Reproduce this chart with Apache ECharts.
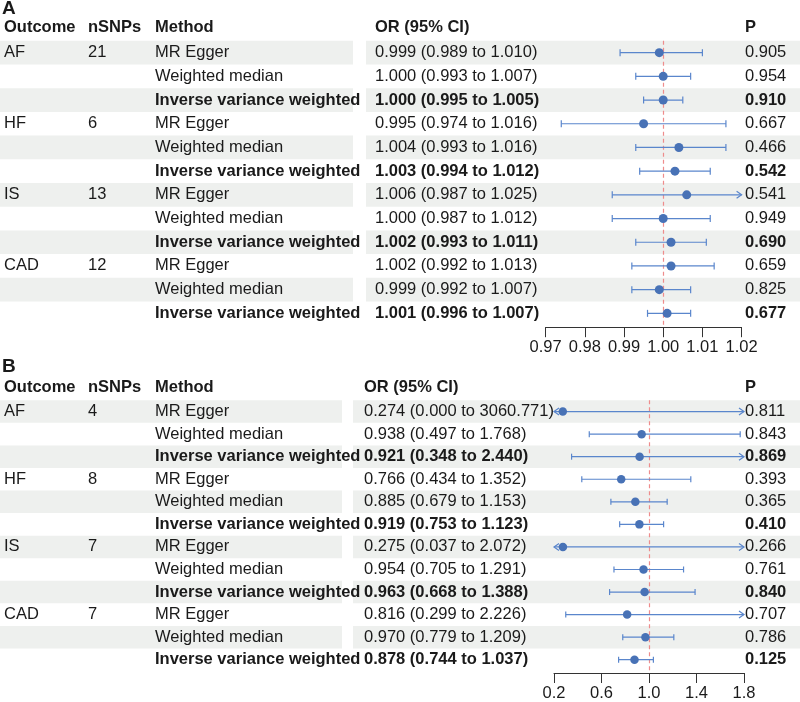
<!DOCTYPE html>
<html>
<head>
<meta charset="utf-8">
<script src="https://cdn.jsdelivr.net/npm/echarts@6/dist/echarts.min.js"></script>
<style>
  html, body { margin: 0; padding: 0; background: #fff; }
  #chart { width: 800px; height: 702px; }
</style>
</head>
<body>
<div id="chart"></div>
<script>
// table columns
const outcomes = ["AF", "HF", "IS", "CAD"];
const methods = ["MR Egger", "Weighted median", "Inverse variance weighted"];

// panel A
const snpsA = [21, 6, 13, 12];
const orA = [0.999, 1.000, 1.000, 0.995, 1.004, 1.003, 1.006, 1.000, 1.002, 1.002, 0.999, 1.001];
const loA = [0.989, 0.993, 0.995, 0.974, 0.993, 0.994, 0.987, 0.987, 0.993, 0.992, 0.992, 0.996];
const hiA = [1.010, 1.007, 1.005, 1.016, 1.016, 1.012, 1.025, 1.012, 1.011, 1.013, 1.007, 1.007];
const pA = [0.905, 0.954, 0.910, 0.667, 0.466, 0.542, 0.541, 0.949, 0.690, 0.659, 0.825, 0.677];
const ticksA = [0.97, 0.98, 0.99, 1.00, 1.01, 1.02];

// panel B
const snpsB = [4, 8, 7, 7];
const orB = [0.274, 0.938, 0.921, 0.766, 0.885, 0.919, 0.275, 0.954, 0.963, 0.816, 0.970, 0.878];
const loB = [0.000, 0.497, 0.348, 0.434, 0.679, 0.753, 0.037, 0.705, 0.668, 0.299, 0.779, 0.744];
const hiB = [3060.771, 1.768, 2.440, 1.352, 1.153, 1.123, 2.072, 1.291, 1.388, 2.226, 1.209, 1.037];
const pB = [0.811, 0.843, 0.869, 0.393, 0.365, 0.410, 0.266, 0.761, 0.840, 0.707, 0.786, 0.125];
const ticksB = [0.2, 0.6, 1.0, 1.4, 1.8];

const FONT = "'Liberation Sans', Arial, sans-serif";
const FS = 16.5;
const TXT = "#1a1a1a";
const BAND = "#eef0ee";
const DOT = "#4872b6";
const BAR = "#5a86cc";
const REF = "#ee8c8c";
const rows = [0, 1, 2, 3, 4, 5, 6, 7, 8, 9, 10, 11];

const chart = echarts.init(document.getElementById("chart"));

// layout per panel (pixels)
const panels = [
  { snps: snpsA, or: orA, lo: loA, hi: hiA, p: pA, ticks: ticksA, dec: 2,
    top: 40.8, height: 284.4, left: 545.6, right: 58.4,
    bandL: 353, bandR: 366, orX: 375, headY: 27, letter: "A", letterY: 9, cap: 7 },
  { snps: snpsB, or: orB, lo: loB, hi: hiB, p: pB, ticks: ticksB, dec: 1,
    top: 400.3, height: 274.4, left: 554, right: 56,
    bandL: 342, bandR: 353, orX: 364, headY: 387, letter: "B", letterY: 367, cap: 6 }
];

const grid = [], xAxis = [], yAxis = [], series = [], graphic = [];

panels.forEach((P, k) => {
  const xmin = P.ticks[0], xmax = P.ticks[P.ticks.length - 1];
  grid.push({ left: P.left, right: P.right, top: P.top, height: P.height });
  xAxis.push({
    gridIndex: k, type: "value", min: xmin, max: xmax, offset: 2,
    axisLine: { show: true, onZero: false, lineStyle: { color: "#333", width: 1 } },
    axisTick: { show: true, length: 10, lineStyle: { color: "#333" }, customValues: P.ticks },
    axisLabel: {
      customValues: P.ticks, margin: 12, color: TXT, fontSize: FS, fontFamily: FONT,
      formatter: (v) => v.toFixed(P.dec)
    },
    splitLine: { show: false }
  });
  yAxis.push({ gridIndex: k, type: "category", inverse: true, show: false, data: rows });

  // bands + text table
  series.push({
    type: "custom", xAxisIndex: k, yAxisIndex: k, z: 1, clip: false, silent: true,
    data: rows.map((i) => [xmin, i]),
    encode: { x: 0, y: 1 },
    renderItem: (params, api) => {
      const i = params.dataIndex;
      const y = api.coord([xmin, i])[1];
      const h = api.size([0, 1])[1];
      const bold = i % 3 === 2 ? "bold" : "normal";
      const ts = (x, text, w) => ({
        type: "text", x: x, y: y,
        style: { text: text, fill: TXT, font: `${w || "normal"} ${FS}px ${FONT}`, verticalAlign: "middle" }
      });
      const ch = [];
      if (i % 2 === 0) {
        ch.push({ type: "rect", shape: { x: 0, y: y - h / 2, width: P.bandL, height: h }, style: { fill: BAND } });
        ch.push({ type: "rect", shape: { x: P.bandR, y: y - h / 2, width: 800 - P.bandR, height: h }, style: { fill: BAND } });
      }
      if (i % 3 === 0) {
        ch.push(ts(4, outcomes[i / 3]));
        ch.push(ts(88, String(P.snps[i / 3])));
      }
      ch.push(ts(155, methods[i % 3], bold));
      ch.push(ts(P.orX, `${P.or[i].toFixed(3)} (${P.lo[i].toFixed(3)} to ${P.hi[i].toFixed(3)})`, bold));
      ch.push(ts(745, P.p[i].toFixed(3), bold));
      return { type: "group", children: ch };
    }
  });

  // confidence intervals
  series.push({
    type: "custom", xAxisIndex: k, yAxisIndex: k, z: 3, clip: false, silent: true,
    data: rows.map((i) => [P.lo[i], P.hi[i], i]),
    encode: { x: [0, 1], y: 2 },
    renderItem: (params, api) => {
      const lo = api.value(0), hi = api.value(1), i = api.value(2);
      const a = api.coord([Math.max(lo, xmin), i]);
      const b = api.coord([Math.min(hi, xmax), i]);
      const st = { stroke: BAR, lineWidth: 1.2, fill: null };
      const c = P.cap / 2;
      const ch = [{ type: "line", shape: { x1: a[0], y1: a[1], x2: b[0], y2: b[1] }, style: st }];
      if (lo < xmin) {
        ch.push({ type: "polyline", shape: { points: [[a[0] + 5, a[1] - 3.5], [a[0], a[1]], [a[0] + 5, a[1] + 3.5]] }, style: st });
      } else {
        ch.push({ type: "line", shape: { x1: a[0], y1: a[1] - c, x2: a[0], y2: a[1] + c }, style: st });
      }
      if (hi > xmax) {
        ch.push({ type: "polyline", shape: { points: [[b[0] - 5, b[1] - 3.5], [b[0], b[1]], [b[0] - 5, b[1] + 3.5]] }, style: st });
      } else {
        ch.push({ type: "line", shape: { x1: b[0], y1: b[1] - c, x2: b[0], y2: b[1] + c }, style: st });
      }
      return { type: "group", children: ch };
    }
  });

  // point estimates + reference line at OR = 1
  series.push({
    type: "scatter", xAxisIndex: k, yAxisIndex: k, z: 4, silent: true,
    symbolSize: k === 0 ? 9 : 8.5,
    itemStyle: { color: DOT, opacity: 1 },
    data: rows.map((i) => [P.or[i], i]),
    markLine: {
      silent: true, symbol: "none", z: 2,
      label: { show: false },
      lineStyle: { color: REF, type: [4, 3], width: 1.2, opacity: 1 },
      data: [{ xAxis: 1 }]
    }
  });

  // headers
  const head = [["Outcome", 4], ["nSNPs", 88], ["Method", 155], ["OR (95% CI)", P.orX], ["P", 745]];
  head.forEach(([t, x]) => graphic.push({
    type: "text", x: x, y: P.headY,
    style: { text: t, fill: TXT, font: `bold ${FS}px ${FONT}`, verticalAlign: "middle" }
  }));
  graphic.push({
    type: "text", x: 2, y: P.letterY,
    style: { text: P.letter, fill: TXT, font: `bold 19px ${FONT}`, verticalAlign: "middle" }
  });
});

chart.setOption({
  animation: false,
  backgroundColor: "#fff",
  grid, xAxis, yAxis, series, graphic
});
</script>
</body>
</html>
